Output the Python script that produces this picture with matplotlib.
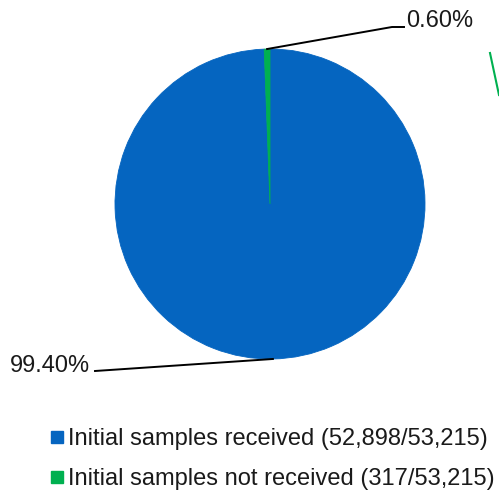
import numpy as np
import matplotlib
matplotlib.use("Agg")
import matplotlib.pyplot as plt
from matplotlib.lines import Line2D
from matplotlib.patches import Rectangle

labels = ["Initial samples received (52,898/53,215)",
          "Initial samples not received (317/53,215)"]
values = [52898, 317]
pct_labels = ["99.40%", "0.60%"]
colors = ["#0565C0", "#00B050"]

plt.rcParams['font.family'] = ['Liberation Sans', 'DejaVu Sans']
W, H = 499, 493
fig = plt.figure(figsize=(W / 100, H / 100), dpi=100)

cx, cy, r = 270, 204, 155
ax = fig.add_axes([(cx - r) / W, (H - cy - r) / H, 2 * r / W, 2 * r / H])
ax.axis('off')

wedges, _ = ax.pie(values, colors=colors, startangle=90, counterclock=False,
                   radius=1, center=(0, 0), frame=False,
                   wedgeprops=dict(linewidth=0.6, edgecolor=None))
for w, c in zip(wedges, colors):
    w.set_edgecolor(c)
ax.set_xlim(-1, 1)
ax.set_ylim(-1, 1)
ax.set_aspect('equal')

def px2d(px, py):
    return (px - cx) / r, (cy - py) / r

total = sum(values)
start = 90.0
mids = []
for v in values:
    span = 360.0 * v / total
    mids.append(np.deg2rad(start - span / 2))
    start -= span

FS = 17

# blue label (bottom-left)
a = mids[0]
p0 = (np.cos(a), np.sin(a))
p1 = px2d(95, 371)
ax.plot([p0[0], p1[0]], [p0[1], p1[1]], color='black', lw=1.4, clip_on=False)
tx, ty = px2d(90, 372)
ax.text(tx, ty, pct_labels[0], ha='right', va='baseline', fontsize=FS,
        color='#1a1a1a', clip_on=False)

# green label (top-right)
a = mids[1]
p0 = (np.cos(a), np.sin(a))
e1 = px2d(392, 27)
e2 = px2d(404, 27)
ax.plot([p0[0], e1[0], e2[0]], [p0[1], e1[1], e2[1]], color='black', lw=1.4,
        clip_on=False)
tx, ty = px2d(406, 27)
ax.text(tx, ty, pct_labels[1], ha='left', va='baseline', fontsize=FS,
        color='#1a1a1a', clip_on=False)

# legend
rows_y = [437, 477]
for lab, col, y in zip(labels, colors, rows_y):
    fig.add_artist(Rectangle((51 / W, (H - y - 6) / H), 12 / W, 12 / H,
                             transform=fig.transFigure, color=col))
    fig.text(67.5 / W, (H - y) / H, lab, ha='left', va='center_baseline',
             fontsize=FS, color='#1a1a1a')

# stray green line at right edge
fig.add_artist(Line2D([490 / W, 499 / W], [(H - 53) / H, (H - 95) / H],
                      transform=fig.transFigure, color='#00B050', lw=1.5))

fig.savefig("out.png", dpi=100)
